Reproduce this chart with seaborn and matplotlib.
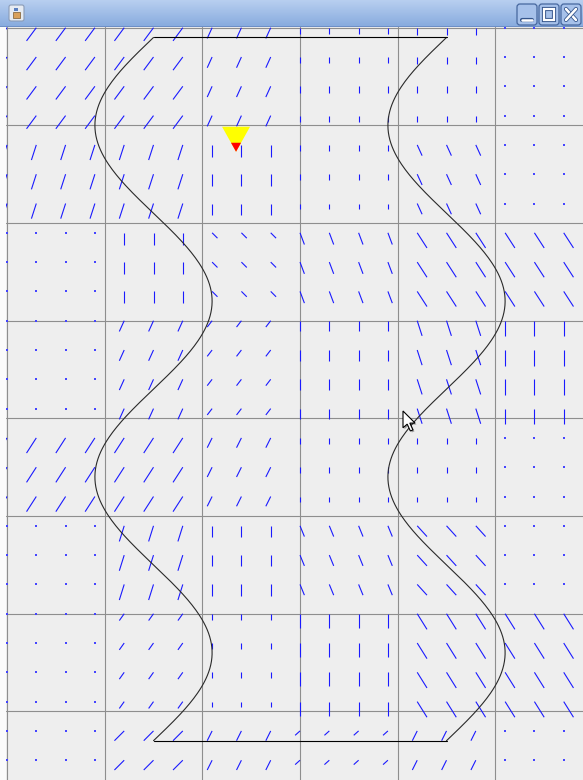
import numpy as np
import pandas as pd
import seaborn as sns
import matplotlib
matplotlib.use("Agg")
import matplotlib.pyplot as plt
import matplotlib.transforms as mtransforms
import matplotlib.patheffects as pe
from matplotlib.collections import LineCollection
from matplotlib.patches import Polygon, FancyBboxPatch, Rectangle

# ---- flow field: one (u, v) per grid cell, rows top->bottom, cols left->right
# v is positive downward
u_field = [
    [-1.0, -1.0, -0.5, 0.0, 0.0, 0.0],
    [-0.5, -0.5, 0.0, 0.0, 0.5, 0.0],
    [0.0, 0.0, 0.55, 0.45, 1.0, 1.0],
    [0.0, -0.5, -0.5, 0.0, 0.5, 0.0],
    [-1.0, -1.0, -0.5, 0.0, 0.0, 0.0],
    [0.0, -0.5, 0.0, 0.45, 1.0, 0.0],
    [0.0, -0.5, 0.0, 0.0, 1.0, 1.0],
    [0.0, -1.0, -0.5, -0.5, -0.5, 0.0],
]
v_field = [
    [1.35, 1.35, 1.1, 0.65, 0.7, 0.0],
    [1.55, 1.55, 1.2, 0.6, 1.1, 0.0],
    [0.0, 1.2, 0.55, 1.2, 1.55, 1.55],
    [0.0, 1.1, 0.65, 1.1, 1.55, 1.6],
    [1.55, 1.55, 1.0, 0.6, 0.6, 0.0],
    [0.0, 1.6, 1.15, 1.1, 1.1, 0.0],
    [0.0, 0.7, 0.6, 1.45, 1.6, 1.6],
    [0.0, 1.0, 1.0, 0.45, 1.0, 0.0],
]
sample_step = 0.3
mark_scale = 0.1

# ---- sinusoidal channel walls
wall_centres = [1.5, 4.5]
wall_amplitude = 0.6
wall_period = 3.6
wall_top, wall_bottom = 0.1, 7.3

# ---- probe marker
probe_x, probe_y = 2.345, 1.014

# ---------------------------------------------------------------------------
W, H = 583, 780
UNIT = 97.67            # pixels per grid unit
OX, OY = 7.0, 27.7      # pixel position of the world origin

sns.set_theme(style="whitegrid")
plt.rcParams["font.family"] = ["DejaVu Sans"]

fig = plt.figure(figsize=(W / 100, H / 100), dpi=100)
fig.patch.set_facecolor("#fbfbfb")
px = mtransforms.Affine2D().scale(1 / W, -1 / H).translate(0, 1) + fig.transFigure

ax_l, ax_t = 6.0, 27.0
ax = fig.add_axes([ax_l / W, 0, (W - ax_l) / W, (H - ax_t) / H])
ax.set_facecolor("#eeeeee")
ax.set_xlim((ax_l - OX) / UNIT, (W - OX) / UNIT)
ax.set_ylim((H - OY) / UNIT, (ax_t - OY) / UNIT)
ax.set_xticks(range(0, 6))
ax.set_yticks(range(0, 8))
ax.grid(True, color="#8e8e8e", linewidth=0.8)
ax.tick_params(length=0, labelbottom=False, labelleft=False)
for s in ax.spines.values():
    s.set_visible(False)

# sample the cell field on a regular lattice
U = np.array(u_field)
V = np.array(v_field)
xs = np.arange(0, 5.8, sample_step)
ys = np.arange(0, 7.7, sample_step)
gx, gy = np.meshgrid(xs, ys)
ci = np.clip(np.floor(gx + 1e-6).astype(int), 0, U.shape[1] - 1)
ri = np.clip(np.floor(gy + 1e-6).astype(int), 0, U.shape[0] - 1)
samples = pd.DataFrame({
    "x": gx.ravel(), "y": gy.ravel(),
    "u": U[ri, ci].ravel(), "v": V[ri, ci].ravel(),
})
moving = samples[(samples.u != 0) | (samples.v != 0)]
still = samples[(samples.u == 0) & (samples.v == 0)]

segs = np.stack([
    np.column_stack([moving.x, moving.y]),
    np.column_stack([moving.x + moving.u * mark_scale, moving.y + moving.v * mark_scale]),
], axis=1)
ax.add_collection(LineCollection(segs, colors="#1a1aff", linewidths=0.8, zorder=3))
sns.scatterplot(data=still, x="x", y="y", marker="s", s=1.2, color="#4444ff",
                linewidth=0, ax=ax, zorder=3, legend=False)

# channel walls
yy = np.linspace(wall_top, wall_bottom, 400)
wall_rows = []
for i, c in enumerate(wall_centres):
    xx = c - wall_amplitude * np.sin(2 * np.pi * (yy - wall_top) / wall_period)
    wall_rows.append(pd.DataFrame({"x": xx, "y": yy, "wall": i}))
walls = pd.concat(wall_rows)
sns.lineplot(data=walls, x="x", y="y", units="wall", estimator=None, sort=False,
             color="#2a2a2a", linewidth=0.8, ax=ax, zorder=4)
for yv in (wall_top, wall_bottom):
    ax.plot(wall_centres, [yv, yv], color="black", linewidth=0.8, zorder=4)
ax.set_xlabel("")
ax.set_ylabel("")

# probe marker: yellow wedge with red tip
hw, hh, tip = 0.143, 0.256, 0.092
ax.add_patch(Polygon([(probe_x - hw, probe_y), (probe_x + hw, probe_y),
                      (probe_x, probe_y + hh)], closed=True, fc="#ffff00", ec="none", zorder=6))
f = tip / hh
ax.add_patch(Polygon([(probe_x - hw * f, probe_y + hh - tip), (probe_x + hw * f, probe_y + hh - tip),
                      (probe_x, probe_y + hh)], closed=True, fc="#ff0000", ec="none", zorder=7))

# ---- window title bar
tb = fig.add_axes([0, 1 - 27 / H, 1, 27 / H])
grad = np.linspace(0, 1, 27)[:, None]
top_c = np.array([0.72, 0.81, 0.94])
bot_c = np.array([0.53, 0.67, 0.87])
img = top_c[None, None, :] * (1 - grad[..., None]) + bot_c[None, None, :] * grad[..., None]
img = np.repeat(img, 2, axis=1)
tb.imshow(img, aspect="auto", extent=[0, 1, 0, 1])
tb.axis("off")
fig.add_artist(Rectangle((0, 26), W, 1.2, transform=px, fc="#6d8fc6", ec="none"))

# application icon
fig.add_artist(FancyBboxPatch((9, 5), 15, 16, boxstyle="round,pad=0,rounding_size=2",
                              transform=px, fc="#e6ebf2", ec="#8a9bb6", lw=0.8))
fig.add_artist(Rectangle((13, 12), 7, 6, transform=px, fc="#d9a05a", ec="#7a5a30", lw=0.5))
fig.add_artist(Rectangle((14, 8), 4, 3, transform=px, fc="#5a7fc0", ec="none"))

# window buttons
stroke = [pe.withStroke(linewidth=3, foreground="#34558c")]
for bx in (517, 539, 561):
    fig.add_artist(FancyBboxPatch((bx, 4), 20, 21, boxstyle="round,pad=0,rounding_size=3",
                                  transform=px, fc="#a6c1ea", ec="#46679e", lw=0.9))
fig.add_artist(plt.Line2D([522, 532], [19.5, 19.5], transform=px, color="white", lw=1.8,
                          path_effects=stroke))
fig.add_artist(Rectangle((544, 9), 10, 11, transform=px, fc="none", ec="white", lw=1.6,
                         path_effects=stroke))
fig.add_artist(plt.Line2D([566, 576], [9, 20], transform=px, color="white", lw=1.8, path_effects=stroke))
fig.add_artist(plt.Line2D([566, 576], [20, 9], transform=px, color="white", lw=1.8, path_effects=stroke))

# mouse pointer
arrow = np.array([(0, 0), (0, 16), (4, 12.5), (7, 19), (9.5, 18), (6.5, 11.5), (11.5, 11.5)])
tipx, tipy = 403, 411
fig.add_artist(Polygon(arrow * 1.05 + [tipx + 1.5, tipy + 1.5], closed=True, transform=px,
                       fc="#00000055", ec="none"))
fig.add_artist(Polygon(arrow * 1.05 + [tipx, tipy], closed=True, transform=px,
                       fc="white", ec="black", lw=0.8))

fig.savefig("out.png", dpi=100)
